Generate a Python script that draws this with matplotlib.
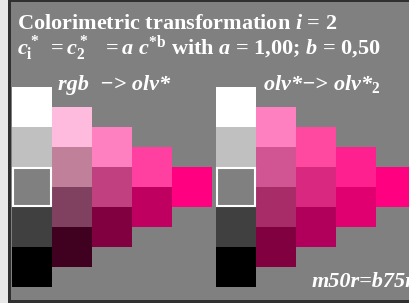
import matplotlib
matplotlib.use("Agg")
import matplotlib.pyplot as plt
from matplotlib.patches import Rectangle

plt.rcParams['mathtext.fontset'] = 'custom'
plt.rcParams['mathtext.rm'] = 'Liberation Serif:bold'
plt.rcParams['mathtext.it'] = 'Liberation Serif:italic:bold'
plt.rcParams['mathtext.bf'] = 'Liberation Serif:bold'

# grey scale column (same in both panels)
grey_col = ["#ffffff", "#c0c0c0", "#808080", "#404040", "#000000"]

# colour columns, top to bottom; each column starts half a cell lower
left_cols = [
    ["#ffbbdd", "#c08099", "#804060", "#400020"],
    ["#ff80c0", "#c04080", "#800040"],
    ["#ff40a0", "#c00060"],
    ["#ff0080"],
]
right_cols = [
    ["#ff80c0", "#d05592", "#a82c68", "#800040"],
    ["#ff48a0", "#d82880", "#b0005c"],
    ["#ff2090", "#e00070"],
    ["#ff0080"],
]

title1 = "Colorimetric transformation $i$ = 2"
title2 = r"$c^*_\mathrm{i}\ = c^*_2\ \ = a\ c^{*\mathrm{b}}$ with $a$ = 1,00; $b$ = 0,50"
label_left = "rgb  \u2212> olv*"
label_right = "olv*\u2212> olv*$_2$"
code_text = "m50r=b75r"

W, H = 409, 303
fig = plt.figure(figsize=(W / 100, H / 100), dpi=100)
ax = fig.add_axes([0, 0, 1, 1])
ax.set_xlim(0, W)
ax.set_ylim(H, 0)
ax.axis("off")

# frame and background
ax.add_patch(Rectangle((0, 0), W, H, color="#e8e8e8", lw=0))
ax.add_patch(Rectangle((8, 0), W - 8, H, color="#303030", lw=0))
ax.add_patch(Rectangle((11, 2), W - 11, H - 5, color="#808080", lw=0))

cell = 40
half = 20
top = 87

def panel(x0, cols):
    for i, c in enumerate(grey_col):
        ax.add_patch(Rectangle((x0, top + i * cell), cell, cell, color=c, lw=0))
    for j, col in enumerate(cols):
        for i, c in enumerate(col):
            ax.add_patch(Rectangle((x0 + (j + 1) * cell, top + (j + 1) * half + i * cell),
                                   cell, cell, color=c, lw=0))
    ax.add_patch(Rectangle((x0 + 1, top + 2 * cell + 1), cell - 2, cell - 2,
                           fill=False, ec="white", lw=1.5))

panel(12, left_cols)
panel(216, right_cols)

tk = dict(color="white", fontsize=16, fontweight="bold", family="Liberation Serif")
ax.text(17, 29, title1, va="baseline", **tk)
ax.text(17, 55, title2, va="baseline", **tk)
ax.text(58, 90, label_left, va="baseline", style="italic", **tk)
ax.text(263, 90, label_right, va="baseline", style="italic", **tk)
ax.text(312, 287, code_text, va="baseline", style="italic", **tk)

fig.savefig("out.png", dpi=100)
